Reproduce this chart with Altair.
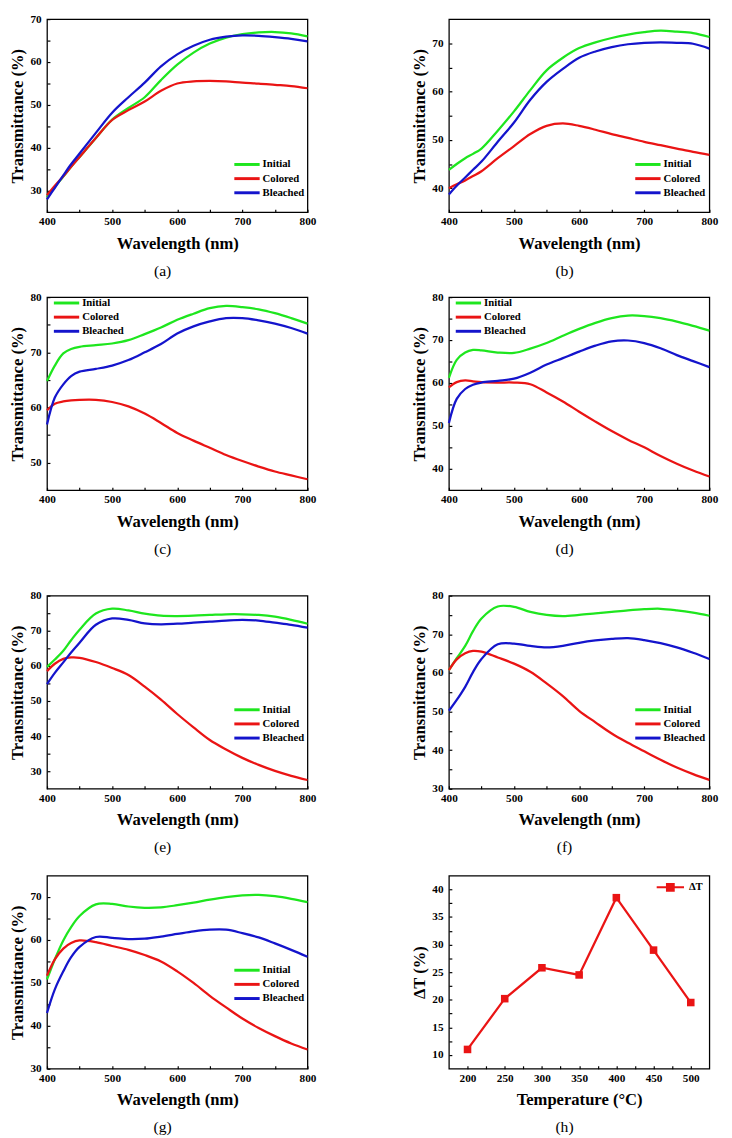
import altair as alt
import pandas as pd

FONT = "Liberation Serif"

# ---------------- data ----------------
WL = [400, 412, 425, 437, 450, 475, 500, 525, 550, 575, 600, 625, 650, 675, 700, 725, 750, 775, 800]
SERIES = ["Initial", "Colored", "Bleached"]
COLORS = ["#1ee61e", "#ea1414", "#1414cc"]

A_INITIAL = [28.5, 30.9, 33.3, 35.6, 37.9, 42.3, 46.6, 49.3, 51.8, 55.8, 59.4, 62.2, 64.3, 65.7, 66.5, 66.9, 67.0, 66.7, 66.0]
A_COLORED = [29.0, 31.2, 33.4, 35.6, 37.9, 42.3, 46.5, 48.8, 50.8, 53.3, 55.0, 55.5, 55.6, 55.5, 55.2, 55.0, 54.7, 54.4, 53.9]
A_BLEACHED = [28.0, 30.7, 33.6, 36.2, 38.7, 43.5, 48.2, 51.8, 55.2, 59.0, 61.8, 63.8, 65.2, 65.9, 66.2, 66.1, 65.8, 65.4, 64.8]

B_INITIAL = [43.8, 45.0, 46.2, 47.1, 48.2, 51.9, 55.9, 60.3, 64.4, 67.0, 69.0, 70.2, 71.1, 71.8, 72.3, 72.6, 72.4, 72.1, 71.3]
B_COLORED = [40.0, 40.8, 41.6, 42.5, 43.5, 46.2, 48.7, 51.2, 52.9, 53.4, 52.9, 52.1, 51.2, 50.4, 49.6, 48.9, 48.2, 47.5, 46.9]
B_BLEACHED = [38.7, 40.5, 42.2, 43.8, 45.5, 49.6, 53.6, 58.3, 62.0, 64.7, 67.0, 68.3, 69.2, 69.8, 70.1, 70.2, 70.1, 69.9, 68.9]

C_INITIAL = [64.8, 67.6, 69.8, 70.6, 71.0, 71.3, 71.6, 72.2, 73.3, 74.5, 75.9, 77.0, 78.0, 78.4, 78.2, 77.8, 77.1, 76.2, 75.2]
C_COLORED = [59.5, 60.7, 61.1, 61.3, 61.4, 61.4, 61.0, 60.2, 58.9, 57.2, 55.4, 54.0, 52.7, 51.4, 50.3, 49.3, 48.4, 47.7, 47.0]
C_BLEACHED = [56.9, 61.8, 64.2, 65.7, 66.5, 67.0, 67.6, 68.6, 70.0, 71.5, 73.4, 74.7, 75.6, 76.2, 76.2, 75.8, 75.2, 74.4, 73.4]

D_INITIAL = [61.2, 65.4, 67.1, 67.7, 67.6, 67.1, 67.0, 68.0, 69.3, 71.0, 72.6, 74.0, 75.1, 75.7, 75.6, 75.1, 74.3, 73.3, 72.2]
D_COLORED = [59.0, 60.2, 60.6, 60.4, 60.2, 60.1, 60.1, 59.7, 57.8, 55.7, 53.3, 51.0, 48.8, 46.8, 45.0, 43.0, 41.2, 39.6, 38.2]
D_BLEACHED = [50.7, 56.3, 58.6, 59.6, 60.1, 60.5, 61.0, 62.4, 64.3, 65.8, 67.3, 68.7, 69.7, 69.9, 69.3, 68.1, 66.5, 65.1, 63.7]

E_INITIAL = [59.7, 61.8, 64.3, 67.3, 70.3, 74.9, 76.3, 75.8, 74.9, 74.3, 74.2, 74.3, 74.5, 74.7, 74.7, 74.5, 74.0, 73.1, 72.0]
E_COLORED = [58.5, 60.6, 62.0, 62.4, 62.3, 61.1, 59.4, 57.4, 54.1, 50.4, 46.3, 42.5, 38.9, 36.2, 33.8, 31.8, 30.1, 28.7, 27.5]
E_BLEACHED = [54.8, 58.0, 61.0, 63.8, 66.6, 71.7, 73.5, 73.1, 72.1, 71.8, 72.0, 72.3, 72.6, 72.9, 73.1, 72.9, 72.3, 71.7, 70.9]

F_INITIAL = [60.7, 63.8, 67.0, 70.8, 74.1, 77.2, 77.1, 75.8, 75.0, 74.7, 75.0, 75.4, 75.8, 76.2, 76.5, 76.6, 76.2, 75.6, 74.8]
F_COLORED = [60.7, 63.5, 65.1, 65.7, 65.5, 64.0, 62.4, 60.3, 57.3, 54.0, 50.2, 47.2, 44.3, 41.9, 39.7, 37.5, 35.5, 33.8, 32.3]
F_BLEACHED = [50.2, 53.0, 56.4, 60.2, 63.6, 67.4, 67.6, 67.0, 66.6, 67.0, 67.8, 68.4, 68.8, 69.0, 68.5, 67.7, 66.6, 65.2, 63.6]

G_INITIAL = [50.8, 55.5, 59.9, 63.0, 65.6, 68.3, 68.4, 67.8, 67.5, 67.6, 68.1, 68.7, 69.4, 70.0, 70.4, 70.5, 70.2, 69.6, 68.8]
G_COLORED = [51.7, 55.5, 58.0, 59.3, 59.9, 59.5, 58.6, 57.7, 56.5, 55.0, 52.7, 50.0, 47.0, 44.3, 41.7, 39.5, 37.6, 35.9, 34.5]
G_BLEACHED = [43.0, 48.5, 52.7, 56.0, 58.4, 60.7, 60.5, 60.2, 60.3, 60.8, 61.4, 62.0, 62.4, 62.4, 61.6, 60.6, 59.2, 57.7, 56.1]

H_TEMP = [200, 250, 300, 350, 400, 450, 500]
H_DT = [11.0, 20.2, 25.8, 24.5, 38.5, 29.0, 19.5]

# axis tick values (major + minor)
WL_TICKS = [400, 450, 500, 550, 600, 650, 700, 750, 800]
A_TICKS = [30, 35, 40, 45, 50, 55, 60, 65, 70]
B_TICKS = [40, 45, 50, 55, 60, 65, 70]
C_TICKS = [50, 55, 60, 65, 70, 75, 80]
D_TICKS = [40, 45, 50, 55, 60, 65, 70, 75, 80]
E_TICKS = [30, 35, 40, 45, 50, 55, 60, 65, 70, 75, 80]
F_TICKS = [30, 35, 40, 45, 50, 55, 60, 65, 70, 75, 80]
G_TICKS = [30, 35, 40, 45, 50, 55, 60, 65, 70]
H_XTICKS = [200, 225, 250, 275, 300, 325, 350, 375, 400, 425, 450, 475, 500]
H_YTICKS = [10, 12.5, 15, 17.5, 20, 22.5, 25, 27.5, 30, 32.5, 35, 37.5, 40]

W, H = 267, 198


def xaxis(title, values, major):
    return alt.Axis(title=title, values=values,
                    labelExpr=f"datum.value % {major} === 0 ? datum.label : ''",
                    offset=-3, tickSize=3, labelPadding=4, domain=False, grid=False,
                    minExtent=19, maxExtent=19, titlePadding=8, labelOverlap=False,
                    labelFlush=False)


def yaxis(title, values, major):
    return alt.Axis(title=title, values=values,
                    labelExpr=f"datum.value % {major} === 0 ? datum.label : ''",
                    offset=-3, tickSize=3, labelPadding=6, domain=False, grid=False,
                    minExtent=18, maxExtent=18, titlePadding=6, labelOverlap=False,
                    labelFlush=False)


def panel_title(label, sub=0):
    kw = dict(text=label, orient="bottom", offset=12, dx=-15,
              anchor="middle", baseline="top")
    if sub:
        kw.update(subtitle=" ", subtitleFontSize=sub, subtitlePadding=0)
    return alt.TitleParams(**kw)


def legend(lx, ly):
    # a wide horizontal stroke drawn as a custom path so that entry rows stay compact
    return alt.Legend(orient="none", legendX=lx, legendY=ly, title=None,
                      symbolType="M-2.4,0H2.4", symbolSize=117, symbolStrokeWidth=3,
                      labelOffset=9, rowPadding=1.5, padding=0)


def spectra(initial, colored, bleached, ydom, yticks, lx, ly, label, sub=0):
    n = len(WL)
    df = pd.DataFrame({
        "Wavelength": WL * 3,
        "T": initial + colored + bleached,
        "Series": ["Initial"] * n + ["Colored"] * n + ["Bleached"] * n,
    })
    return alt.Chart(df, title=panel_title(label, sub), width=W, height=H).mark_line(
        strokeWidth=2.3, interpolate="catmull-rom"
    ).encode(
        x=alt.X("Wavelength:Q", scale=alt.Scale(domain=[400, 800], nice=False, zero=False),
                axis=xaxis("Wavelength (nm)", WL_TICKS, 100)),
        y=alt.Y("T:Q", scale=alt.Scale(domain=ydom, nice=False, zero=False),
                axis=yaxis("Transmittance (%)", yticks, 10)),
        color=alt.Color("Series:N", sort=SERIES,
                        scale=alt.Scale(domain=SERIES, range=COLORS),
                        legend=legend(lx, ly)),
    )


a = spectra(A_INITIAL, A_COLORED, A_BLEACHED, [25, 70], A_TICKS, 198, 142, "(a)")
b = spectra(B_INITIAL, B_COLORED, B_BLEACHED, [35, 75], B_TICKS, 197, 142, "(b)")
c = spectra(C_INITIAL, C_COLORED, C_BLEACHED, [45, 80], C_TICKS, 13, -1, "(c)", sub=22)
d = spectra(D_INITIAL, D_COLORED, D_BLEACHED, [35, 80], D_TICKS, 13, -1, "(d)", sub=22)
e = spectra(E_INITIAL, E_COLORED, E_BLEACHED, [25, 80], E_TICKS, 198, 110, "(e)", sub=5)
f = spectra(F_INITIAL, F_COLORED, F_BLEACHED, [30, 80], F_TICKS, 197, 110, "(f)", sub=5)
g = spectra(G_INITIAL, G_COLORED, G_BLEACHED, [30, 75], G_TICKS, 198, 90, "(g)")

hdf = pd.DataFrame({"Temp": H_TEMP, "dT": H_DT, "Series": ["ΔT"] * len(H_TEMP)})
h_color = alt.Color("Series:N", scale=alt.Scale(domain=["ΔT"], range=["#ea1414"]),
                    legend=alt.Legend(orient="none", legendX=212, legendY=-3, title=None,
                                      symbolType="M-1,0H1M-0.25,-0.25H0.25V0.25H-0.25Z",
                                      symbolSize=784, symbolStrokeWidth=2,
                                      symbolStrokeColor="#ea1414", symbolFillColor="#ea1414",
                                      labelOffset=4, padding=0))
h_base = alt.Chart(hdf).encode(
    x=alt.X("Temp:Q", scale=alt.Scale(domain=[175, 525], nice=False, zero=False),
            axis=xaxis("Temperature (°C)", H_XTICKS, 50)),
    y=alt.Y("dT:Q", scale=alt.Scale(domain=[7.5, 42.5], nice=False, zero=False),
            axis=yaxis("ΔT (%)", H_YTICKS, 5)),
    color=h_color,
)
h = alt.layer(
    h_base.mark_line(strokeWidth=2.3),
    h_base.mark_point(shape="square", filled=True, size=60, opacity=1),
    title=panel_title("(h)"), width=W, height=H,
)


def row(left, right):
    return alt.hconcat(left, right, spacing=145, bounds="flush").resolve_scale(
        x="independent", y="independent", color="independent"
    ).resolve_legend(color="independent")


chart = alt.vconcat(
    row(a, b), row(c, d), row(e, f), row(g, h), spacing=11, bounds="full"
).resolve_scale(
    x="independent", y="independent", color="independent"
).resolve_legend(color="independent").properties(
    padding={"left": 0, "top": -10, "right": 5, "bottom": 5}, background="white"
).configure_view(
    stroke="black", strokeWidth=1.3
).configure_axis(
    labelFont=FONT, labelFontWeight="bold", labelFontSize=11.5, labelColor="black",
    titleFont=FONT, titleFontWeight="bold", titleFontSize=17, titleColor="black",
    tickColor="black", tickWidth=1.2
).configure_legend(
    labelFont=FONT, labelFontWeight="bold", labelFontSize=11, labelColor="black"
).configure_title(
    font=FONT, fontSize=16, fontWeight="normal", color="black"
)

chart.save("out.html", embed_options={"renderer": "svg", "actions": False})
